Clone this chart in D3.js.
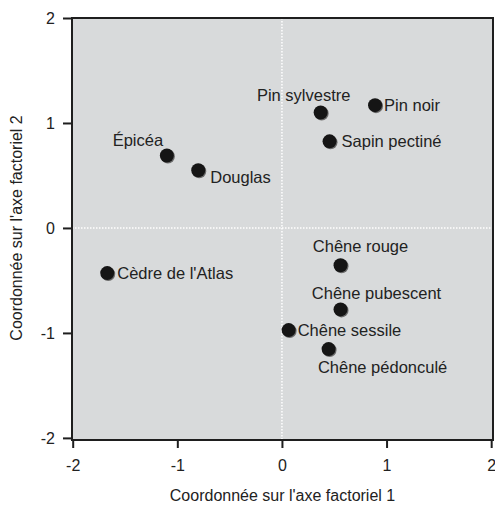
<!DOCTYPE html>
<html>
<head>
<meta charset="utf-8">
<script src="https://cdn.jsdelivr.net/npm/d3@7"></script>
<style>
  body { margin: 0; background: #fff; }
  text { font-family: "Liberation Sans", Arial, sans-serif; fill: #222; }
</style>
</head>
<body>
<div id="chart"></div>
<script>
// species coordinates on the two factorial axes
var species = ["Épicéa", "Douglas", "Pin sylvestre", "Pin noir", "Sapin pectiné",
               "Cèdre de l'Atlas", "Chêne rouge", "Chêne pubescent", "Chêne sessile", "Chêne pédonculé"];
var axis1 = [-1.10, -0.80, 0.37, 0.89, 0.455, -1.67, 0.56, 0.56, 0.064, 0.446];
var axis2 = [0.69, 0.55, 1.10, 1.17, 0.825, -0.43, -0.355, -0.776, -0.973, -1.154];
var ticks = [-2, -1, 0, 1, 2];
var tickLabels = ["-2", "-1", "0", "1", "2"];

var width = 495, height = 506
var margin = {left: 72, right: 2, top: 18, bottom: 66}

var svg = d3.select("#chart")
            .append("svg")
            .attr("width", width)
            .attr("height", height)

var x = d3.scaleLinear().domain([-2, 2.005]).range([margin.left + 0.7, 491.7])
var y = d3.scaleLinear().domain([-2.02, 2]).range([height - margin.bottom, margin.top])

// panel background
svg.append("rect")
    .attr("x", margin.left)
    .attr("y", margin.top)
    .attr("width", width - margin.right - margin.left)
    .attr("height", height - margin.bottom - margin.top)
    .attr("fill", "#d8dadb")

// dotted zero lines
svg.append("line")
    .attr("x1", x(0)).attr("x2", x(0))
    .attr("y1", margin.top).attr("y2", height - margin.bottom)
    .attr("stroke", "#fff").attr("stroke-width", 1.5)
    .attr("stroke-dasharray", "1.5,1.5")
svg.append("line")
    .attr("x1", margin.left).attr("x2", width - margin.right)
    .attr("y1", y(0)).attr("y2", y(0))
    .attr("stroke", "#fff").attr("stroke-width", 1.5)
    .attr("stroke-dasharray", "1.5,1.5")

// frame
svg.append("rect")
    .attr("x", margin.left)
    .attr("y", margin.top)
    .attr("width", width - margin.right - margin.left)
    .attr("height", height - margin.bottom - margin.top)
    .attr("fill", "none")
    .attr("stroke", "#1e1e1e")
    .attr("stroke-width", 2)

// axes
var fmt = (d) => tickLabels[ticks.indexOf(d)]
var xAxis = svg.append("g")
    .attr("transform", "translate(0," + (height - margin.bottom) + ")")
    .call(d3.axisBottom(x).tickValues(ticks).tickSize(8).tickPadding(12).tickFormat(fmt))
var yAxis = svg.append("g")
    .attr("transform", "translate(" + margin.left + ",0)")
    .call(d3.axisLeft(y).tickValues(ticks).tickSize(9).tickPadding(8).tickFormat(fmt))

svg.selectAll(".domain").remove()
svg.selectAll(".tick line").attr("stroke", "#1e1e1e").attr("stroke-width", 2)
svg.selectAll(".tick text")
    .style("font-family", "Liberation Sans, Arial, sans-serif")
    .style("font-size", "16px")
    .attr("fill", "#222")

// axis titles
svg.append("text")
    .attr("x", (margin.left + width - margin.right) / 2)
    .attr("y", 501)
    .attr("text-anchor", "middle")
    .style("font-size", "16px")
    .text("Coordonnée sur l'axe factoriel 1")

svg.append("text")
    .attr("transform", "translate(22," + y(0) + ") rotate(-90)")
    .attr("text-anchor", "middle")
    .style("font-size", "16px")
    .text("Coordonnée sur l'axe factoriel 2")

// label placement relative to each point
var labelPos = {
    "Épicéa": {dx: -29, dy: -10, anchor: "middle"},
    "Douglas": {dx: 12, dy: 13, anchor: "start"},
    "Pin sylvestre": {dx: -17, dy: -11, anchor: "middle"},
    "Pin noir": {dx: 9, dy: 6, anchor: "start"},
    "Sapin pectiné": {dx: 12, dy: 6, anchor: "start"},
    "Cèdre de l'Atlas": {dx: 10, dy: 6, anchor: "start"},
    "Chêne rouge": {dx: 20, dy: -13, anchor: "middle"},
    "Chêne pubescent": {dx: 36, dy: -10, anchor: "middle"},
    "Chêne sessile": {dx: 9, dy: 6, anchor: "start"},
    "Chêne pédonculé": {dx: 54, dy: 24, anchor: "middle"}
}

var pts = species.map((d, i) => ({name: d, a: axis1[i], b: axis2[i]}))

var g = svg.selectAll(".pt")
    .data(pts)
    .enter()
    .append("g")
    .attr("class", "pt")

g.append("circle")
    .attr("cx", (d) => x(d.a) + 1)
    .attr("cy", (d) => y(d.b) + 1)
    .attr("r", 7)
    .attr("fill", "#6a6a6a")
g.append("circle")
    .attr("cx", (d) => x(d.a))
    .attr("cy", (d) => y(d.b))
    .attr("r", 7)
    .attr("fill", "#151515")

g.append("text")
    .attr("x", (d) => x(d.a) + labelPos[d.name].dx)
    .attr("y", (d) => y(d.b) + labelPos[d.name].dy)
    .attr("text-anchor", (d) => labelPos[d.name].anchor)
    .style("font-size", "16.5px")
    .text((d) => d.name)
</script>
</body>
</html>
